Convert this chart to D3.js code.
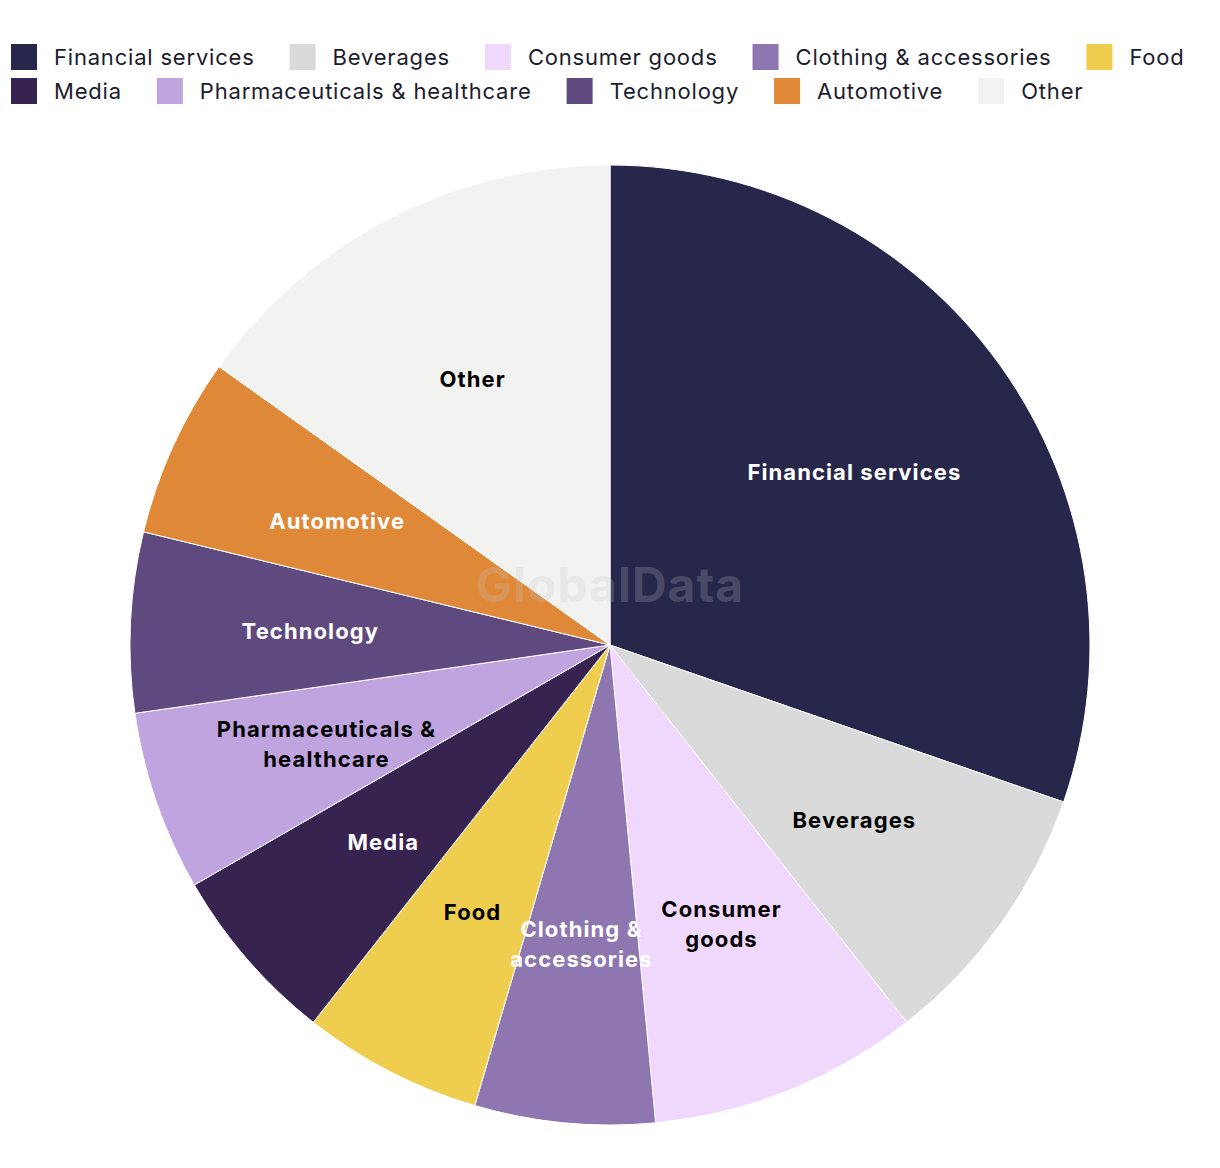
<!DOCTYPE html>
<html>
<head>
<meta charset="utf-8">
<script src="https://cdn.jsdelivr.net/npm/d3@7"></script>
<style>
  html, body { margin: 0; padding: 0; background: #ffffff; }
  svg { display: block; }
</style>
</head>
<body>
<svg id="chart" width="1220" height="1168"></svg>
<script>
// ---- data ----
const categories = ["Financial services", "Beverages", "Consumer goods", "Clothing & accessories", "Food",
                    "Media", "Pharmaceuticals & healthcare", "Technology", "Automotive", "Other"];
const values = [10, 3, 3, 2, 2, 2, 2, 2, 2, 5];
const sliceLabelLines = [["Financial services"], ["Beverages"], ["Consumer", "goods"], ["Clothing &", "accessories"], ["Food"],
                         ["Media"], ["Pharmaceuticals &", "healthcare"], ["Technology"], ["Automotive"], ["Other"]];
const colors = ["#27274b", "#dadada", "#f0d8fc", "#8e77b0", "#efcd4f",
                "#362350", "#bfa4e0", "#5e4a7e", "#df8838", "#f2f2f1"];
const labelColors = ["#ffffff", "#000000", "#000000", "#ffffff", "#000000",
                     "#ffffff", "#000000", "#ffffff", "#ffffff", "#000000"];
const legendRows = [[0, 1, 2, 3, 4], [5, 6, 7, 8, 9]];

// ---- layout ----
const svg = d3.select("#chart");
const cx = 610, cy = 645, R = 480, labelR = 300;
const font = "Inter, 'Open Sans', sans-serif";

const color = d3.scaleOrdinal().domain(categories).range(colors);
const data = categories.map((c, i) => ({ name: c, value: values[i], i }));

const pie = d3.pie().value(d => d.value).sort(null);
const arc = d3.arc().innerRadius(0).outerRadius(R);
const labelArc = d3.arc().innerRadius(labelR).outerRadius(labelR);
const arcs = pie(data);

const g = svg.append("g").attr("transform", `translate(${cx},${cy})`);
g.selectAll("path.slice").data(arcs).join("path")
  .attr("class", "slice")
  .attr("d", arc)
  .attr("fill", d => color(d.data.name))
  .attr("stroke", "#ffffff")
  .attr("stroke-width", 1);

// watermark
svg.append("text")
  .attr("x", cx).attr("y", 602)
  .attr("text-anchor", "middle")
  .attr("font-family", font)
  .attr("font-weight", 700)
  .attr("font-size", 48)
  .attr("letter-spacing", 1)
  .attr("fill", "#c8c8d0")
  .attr("fill-opacity", 0.22)
  .text("GlobalData");

// slice labels
const lineH = 30;
const lbl = g.selectAll("text.lbl").data(arcs).join("text")
  .attr("class", "lbl")
  .attr("transform", d => `translate(${labelArc.centroid(d)})`)
  .attr("text-anchor", "middle")
  .attr("font-family", font)
  .attr("font-weight", 700)
  .attr("font-size", 22)
  .attr("letter-spacing", 1.1)
  .attr("fill", d => labelColors[d.data.i]);
lbl.each(function(d) {
  const lines = sliceLabelLines[d.data.i];
  const t = d3.select(this);
  const y0 = -(lines.length - 1) * lineH / 2;
  lines.forEach((ln, k) => {
    t.append("tspan").attr("x", 0).attr("y", y0 + k * lineH + 1).attr("dy", "0.35em").text(ln);
  });
});

// legend (flow layout per row)
const legSq = 26, legGap = 17, itemGap = 35, legX0 = 11;
const rowY = [57, 91];
legendRows.forEach((row, r) => {
  let x = legX0;
  row.forEach(i => {
    const item = svg.append("g").attr("transform", `translate(${x},${rowY[r]})`);
    item.append("rect")
      .attr("x", 0).attr("y", -legSq / 2)
      .attr("width", legSq).attr("height", legSq)
      .attr("fill", colors[i]);
    const t = item.append("text")
      .attr("x", legSq + legGap).attr("y", 0).attr("dy", "0.35em")
      .attr("font-family", font)
      .attr("font-size", 22)
      .attr("letter-spacing", 0.8)
      .attr("fill", "#1c1c2e")
      .text(categories[i]);
    x += legSq + legGap + t.node().getComputedTextLength() + itemGap;
  });
});
</script>
</body>
</html>
